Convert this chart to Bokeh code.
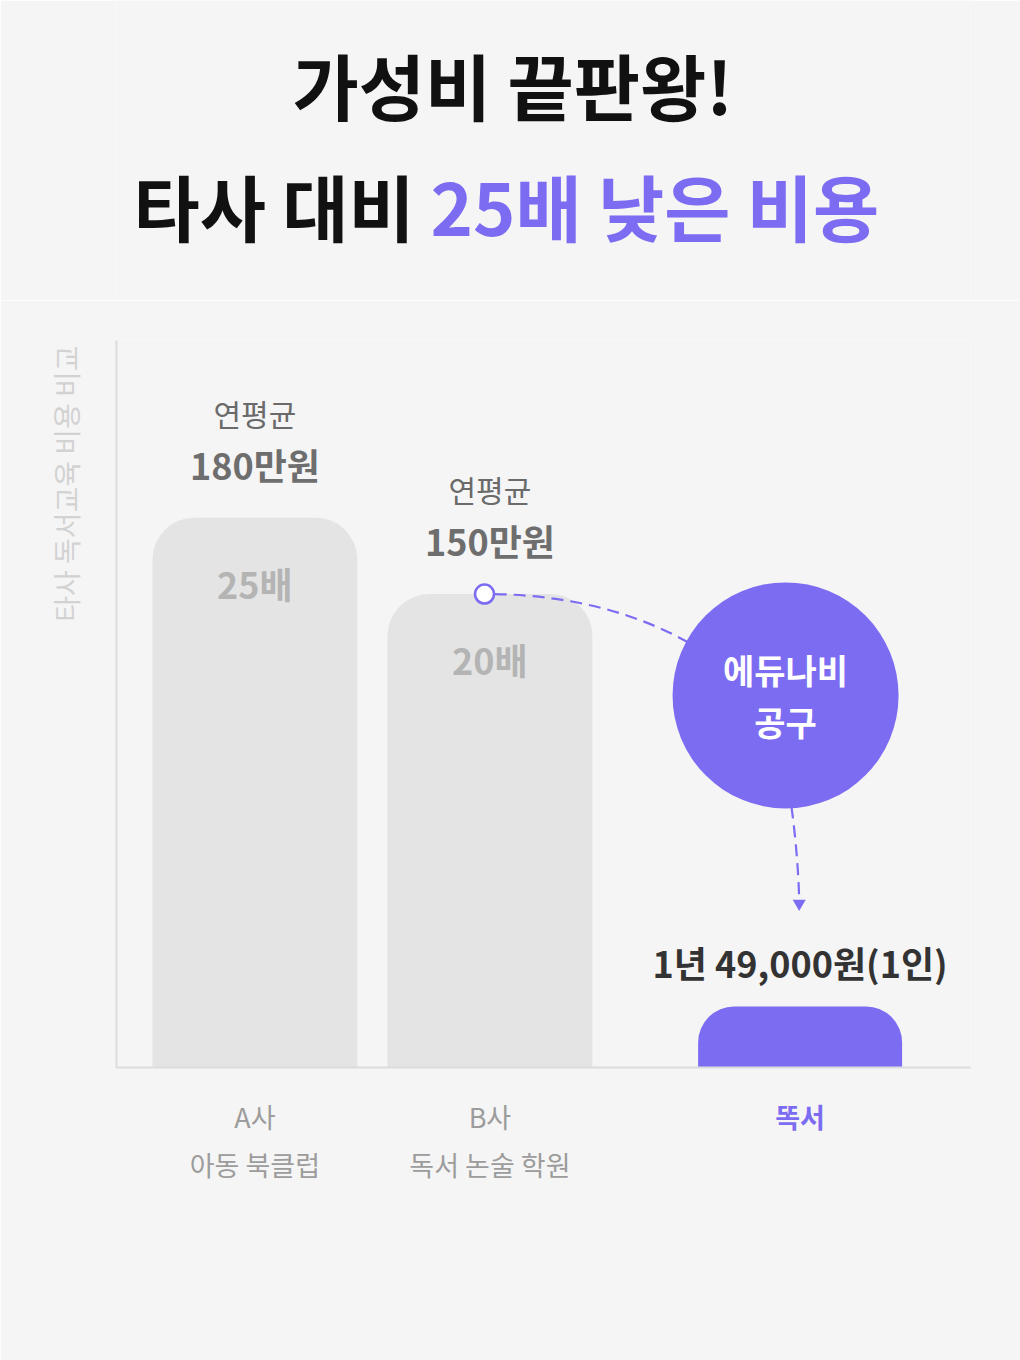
import math
from bokeh.plotting import figure
from bokeh.models import Range1d, LinearAxis, FixedTicker, Label
from bokeh.layouts import column
from bokeh.embed import file_html
from bokeh.resources import INLINE
from bokeh.core.properties import value

# ---------------- data ----------------
title_line1 = "가성비 끝판왕!"
title_line2_a = "타사 대비"
title_line2_b = "25배 낮은 비용"
y_axis_label = "타사 독서교육 비용 비교"

companies = ["A사", "B사", "똑서"]
descriptions = ["아동 북클럽", "독서 논술 학원", ""]
groups = ["타사", "타사", "똑서"]
cost_captions = ["연평균", "연평균"]
cost_labels = ["180만원", "150만원"]
ddok_cost_label = "1년 49,000원(1인)"
multipliers = ["25배", "20배"]
bar_heights = [180, 155, 20]          # displayed bar heights (not to scale in original)
callout_text = "에듀나비\n공구"

# ---------------- style ----------------
FONT = "Noto Sans CJK KR"
BG = "#f5f5f5"
PURPLE = "#7c6cf2"
GRAY_BAR = "#e4e4e4"
AXIS = "#dcdcdc"

# category positions: one unit per bar, extra gap between groups
GROUP_GAP = 0.32
uniq_groups = []
for g in groups:
    if g not in uniq_groups:
        uniq_groups.append(g)
x_pos = [float(i + GROUP_GAP * uniq_groups.index(g)) for i, g in enumerate(groups)]

W = 1020
TH = 300
CH = 1360 - TH
LEFT, RIGHT = 116, 50

# ---------------- title figure ----------------
# (frames of figures in a column are aligned, so the title frame spans the chart frame width)
pt = figure(width=W, height=TH, x_range=Range1d(LEFT, W - RIGHT), y_range=Range1d(0, TH),
            x_axis_type=None, y_axis_type=None, toolbar_location=None,
            output_backend="svg", min_border=0, min_border_left=LEFT,
            min_border_right=RIGHT, background_fill_color=BG,
            border_fill_color=BG, outline_line_color=None)
pt.text(x=[292], y=[TH - 83], text=[title_line1], text_font=value(FONT),
        text_font_size="72px", text_font_style="bold", text_color="#111111",
        text_align="left", text_baseline="middle")
pt.text(x=[133], y=[TH - 204], text=[title_line2_a], text_font=value(FONT),
        text_font_size="72px", text_font_style="bold", text_color="#111111",
        text_align="left", text_baseline="middle")
pt.text(x=[430], y=[TH - 204], text=[title_line2_b], text_font=value(FONT),
        text_font_size="72px", text_font_style="bold", text_color=PURPLE,
        text_align="left", text_baseline="middle")

# ---------------- chart figure ----------------
p = figure(width=W, height=CH, x_range=Range1d(-0.589, 3.045), y_range=Range1d(0, 238),
           x_axis_type=None, y_axis_type=None, toolbar_location=None,
           output_backend="svg", min_border_left=LEFT, min_border_right=RIGHT,
           min_border_top=40, min_border_bottom=293,
           background_fill_color=BG, border_fill_color=BG, outline_line_color=None)

# bars
def bars(xs, tops, width, color, radius):
    try:
        p.vbar(x=xs, top=tops, bottom=0, width=width, fill_color=color,
               line_color=None, border_radius=(radius, radius, 0, 0))
    except Exception:
        p.vbar(x=xs, top=tops, bottom=0, width=width, fill_color=color, line_color=None)

bars(x_pos[:2], bar_heights[:2], 0.872, GRAY_BAR, 42)
bars(x_pos[2:], bar_heights[2:], 0.868, PURPLE, 36)

# labels above/inside bars
p.text(x=x_pos[:2], y=bar_heights[:2], text=cost_captions, y_offset=-105,
       text_font=value(FONT), text_font_size="30px", text_color="#6a6a6a",
       text_align="center", text_baseline="middle")
p.text(x=x_pos[:2], y=bar_heights[:2], text=cost_labels, y_offset=-54,
       text_font=value(FONT), text_font_size="36px", text_font_style="bold",
       text_color="#6e6e6e", text_align="center", text_baseline="middle")
p.text(x=x_pos[:2], y=bar_heights[:2], text=multipliers, y_offset=65,
       text_font=value(FONT), text_font_size="36px", text_font_style="bold",
       text_color="#b4b4b4", text_align="center", text_baseline="middle")
p.text(x=x_pos[2:], y=bar_heights[2:], text=[ddok_cost_label], y_offset=-44,
       text_font=value(FONT), text_font_size="36px", text_font_style="bold",
       text_color="#333333", text_align="center", text_baseline="middle")

# callout connectors
p.quadratic(x0=[x_pos[1] + 0.02], y0=[bar_heights[1]], cx=[1.513], cy=[154.2],
            x1=[1.87], y1=[138.0], line_color=PURPLE, line_width=2.2, line_dash="12 7")
p.quadratic(x0=[2.283], y0=[85.4], cx=[2.309], cy=[71.0],
            x1=[x_pos[2] - 0.004], y1=[55.5], line_color=PURPLE, line_width=2.2, line_dash="12 7")
p.scatter(x=[x_pos[2] - 0.004], y=[53.7], marker="inverted_triangle", size=13,
          fill_color=PURPLE, line_color=None)
p.scatter(x=[x_pos[1] - 0.023], y=[bar_heights[1]], marker="circle", size=19,
          fill_color="white", line_color=PURPLE, line_width=2.5)

# callout bubble
p.scatter(x=[2.258], y=[121.8], marker="circle", size=226, fill_color=PURPLE, line_color=None)
p.text(x=[2.258], y=[121.8], text=[callout_text], text_font=value(FONT),
       text_font_size="34px", text_font_style="bold", text_color="white",
       text_align="center", text_baseline="middle", text_line_height=1.05)

# axes
ax1 = LinearAxis(ticker=FixedTicker(ticks=x_pos[:2]),
                 major_label_overrides={x_pos[i]: companies[i] for i in range(2)})
ax2 = LinearAxis(ticker=FixedTicker(ticks=x_pos[:2]),
                 major_label_overrides={x_pos[i]: descriptions[i] for i in range(2)})
for ax, standoff in ((ax1, 29), (ax2, 6)):
    ax.major_tick_line_color = None
    ax.minor_tick_line_color = None
    ax.major_tick_out = 0
    ax.major_tick_in = 0
    ax.minor_tick_out = 0
    ax.minor_tick_in = 0
    ax.major_label_text_font = FONT
    ax.major_label_text_font_size = "27px"
    ax.major_label_text_color = "#9c9c9c"
    ax.major_label_standoff = standoff
ax1.axis_line_color = AXIS
ax1.axis_line_width = 2
ax2.axis_line_color = None
p.add_layout(ax1, "below")
p.add_layout(ax2, "below")

yax = LinearAxis(ticker=FixedTicker(ticks=[]), axis_line_color=AXIS, axis_line_width=2,
                 major_tick_line_color=None, minor_tick_line_color=None,
                 major_tick_out=0, minor_tick_out=0, major_label_text_font_size="0px")
p.add_layout(yax, "left")

# y-axis title, top-aligned along the axis (placed in the left panel)
p.add_layout(Label(x=-0.806, y=236.4, text=y_axis_label, angle=math.pi / 2,
                   text_align="right", text_baseline="middle", text_font=FONT,
                   text_font_size="28px", text_color="#d2d2d2"), "left")

# highlighted category label, placed in the bottom panel under its bar
p.add_layout(Label(x=x_pos[2], y=-16.0, text=companies[2], text_align="center",
                   text_baseline="middle", text_font=FONT, text_font_size="27px",
                   text_font_style="bold", text_color=PURPLE), "below")

layout = column(pt, p, spacing=0)
html = file_html(layout, INLINE, title="가성비 끝판왕")
html = html.replace("<body>", '<body style="background-color:%s;">' % BG, 1)
open("out.html", "w").write(html)
